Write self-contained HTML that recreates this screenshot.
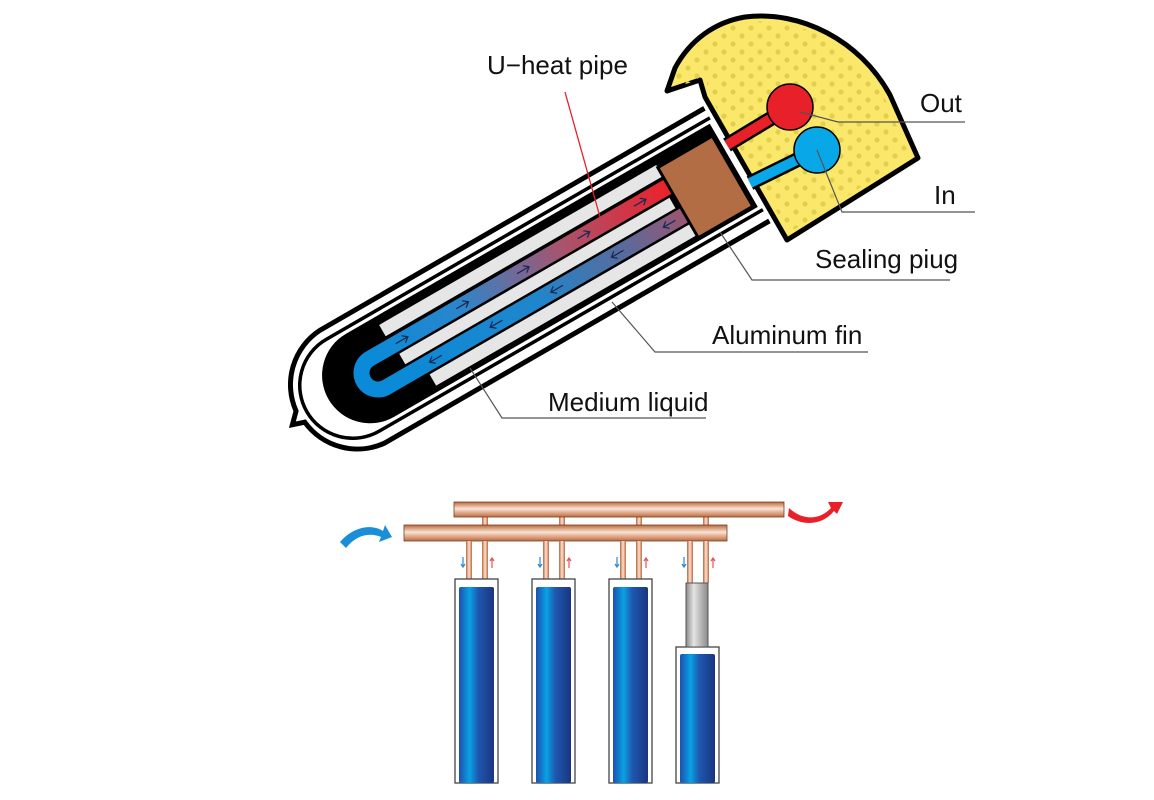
<!DOCTYPE html>
<html><head><meta charset="utf-8"><style>
html,body{margin:0;padding:0;background:#fff;}
svg{display:block}
text{font-family:"Liberation Sans",Arial,sans-serif;fill:#111;font-size:26px}
</style></head><body>
<svg width="1154" height="800" viewBox="0 0 1154 800" xmlns="http://www.w3.org/2000/svg">
<defs>
<linearGradient id="gTop" gradientUnits="userSpaceOnUse" x1="0" y1="0" x2="340" y2="0">
<stop offset="0" stop-color="#0a8ad8"/><stop offset="0.3" stop-color="#2a86cc"/><stop offset="0.65" stop-color="#a8546e"/><stop offset="1" stop-color="#e8242e"/></linearGradient>
<linearGradient id="gBot" gradientUnits="userSpaceOnUse" x1="0" y1="0" x2="345" y2="0">
<stop offset="0" stop-color="#0a8ad8"/><stop offset="0.5" stop-color="#1f86cc"/><stop offset="0.8" stop-color="#5a6a9a"/><stop offset="1" stop-color="#9a5670"/></linearGradient>
<pattern id="dots" patternUnits="userSpaceOnUse" width="18" height="16">
<circle cx="4" cy="4" r="2.6" fill="#e2cf4e"/><circle cx="13" cy="12" r="2.6" fill="#e2cf4e"/></pattern>
<linearGradient id="cu" x1="0" y1="0" x2="0" y2="1">
<stop offset="0" stop-color="#b8683e"/><stop offset="0.45" stop-color="#fbe3d2"/><stop offset="1" stop-color="#c06a40"/></linearGradient>
<linearGradient id="cuv" x1="0" y1="0" x2="1" y2="0">
<stop offset="0" stop-color="#b8683e"/><stop offset="0.5" stop-color="#fbe3d2"/><stop offset="1" stop-color="#c06a40"/></linearGradient>
<linearGradient id="bl" x1="0" y1="0" x2="1" y2="0">
<stop offset="0" stop-color="#1f4fae"/><stop offset="0.3" stop-color="#08a2e4"/><stop offset="0.55" stop-color="#1f58b0"/><stop offset="1" stop-color="#1a3580"/></linearGradient>
<linearGradient id="gr" x1="0" y1="0" x2="1" y2="0">
<stop offset="0" stop-color="#8a8a8a"/><stop offset="0.35" stop-color="#e4e4e4"/><stop offset="1" stop-color="#8a8a8a"/></linearGradient>
</defs>

<g transform="translate(378,373) rotate(-30)">
  <path d="M415,-66 L-29,-66 A65,65 0 0 0 -90,-8 L-100,2 L-88,6 A65,65 0 0 0 -29,64 L415,64" fill="#fff" stroke="#000" stroke-width="5"/>
  <path d="M415,-55 L-28,-55 A53,53 0 0 0 -28,51 L415,51" fill="#fff" stroke="#000" stroke-width="3.5"/>
  <path d="M412,-50 L-8,-50 A48,48 0 0 0 -8,46 L412,46 Z" fill="#000"/>
  <rect x="25" y="-41" width="320" height="13" fill="#e6e6e6"/>
  <rect x="28" y="-6" width="312" height="12" fill="#e6e6e6"/>
  <rect x="44" y="27" width="305" height="13" fill="#e6e6e6"/>
  <path d="M345,-16.5 L0,-16.5 A16.5,16.5 0 0 0 0,16.5" fill="none" stroke="url(#gTop)" stroke-width="16"/>
  <path d="M-1,16.5 L348,16.5" fill="none" stroke="url(#gBot)" stroke-width="16"/>
  <g fill="none" stroke="#1a2a55" stroke-width="1.3">
    <path d="M30,-16.5h14m-5,-4l5,4l-5,4"/><path d="M100,-16.5h14m-5,-4l5,4l-5,4"/><path d="M170,-16.5h14m-5,-4l5,4l-5,4"/><path d="M240,-16.5h14m-5,-4l5,4l-5,4"/><path d="M305,-16.5h14m-5,-4l5,4l-5,4"/>
    <path d="M50,16.5h14m-9,-4l-5,4l5,4"/><path d="M120,16.5h14m-9,-4l-5,4l5,4"/><path d="M190,16.5h14m-9,-4l-5,4l5,4"/><path d="M260,16.5h14m-9,-4l-5,4l5,4"/><path d="M320,16.5h14m-9,-4l-5,4l5,4"/>
  </g>
  <rect x="345" y="-38" width="63" height="81" fill="#b26d45" stroke="#000" stroke-width="3"/>
  <line x1="414" y1="-48" x2="414" y2="44" stroke="#fff" stroke-width="1.5"/>
</g>

<path d="M667,91 L675,68 C690,40 715,22 745,17 C800,10 860,40 890,95 L918,158 L787,240 L705,97 L700,80 Z" fill="#fbe86a" stroke="#000" stroke-width="5" stroke-linejoin="round"/>
<path d="M672,88 L679,70 C693,44 717,27 746,22 C798,16 855,44 884,97 L910,156 L789,233 L710,97 L706,78 Z" fill="url(#dots)"/>
<line x1="727" y1="145" x2="790" y2="107" stroke="#000" stroke-width="15"/>
<line x1="727" y1="145" x2="790" y2="107" stroke="#e8202a" stroke-width="10"/>
<line x1="750" y1="183" x2="817" y2="150" stroke="#000" stroke-width="15"/>
<line x1="750" y1="183" x2="817" y2="150" stroke="#08a8e8" stroke-width="10"/>
<circle cx="790" cy="107" r="23" fill="#e8202a" stroke="#000" stroke-width="1.5"/>
<circle cx="817" cy="150" r="23" fill="#08a8e8" stroke="#000" stroke-width="1.5"/>

<g stroke="#555" stroke-width="1.2" fill="none">
  <polyline points="800,112 838,122 965,122"/>
  <polyline points="817,150 842,212 975,212"/>
  <polyline points="720,232 752,280 950,280"/>
  <polyline points="612,302 655,352 868,352"/>
  <polyline points="470,368 502,418 706,418"/>
</g>
<line x1="565" y1="92" x2="600" y2="217" stroke="#e8202a" stroke-width="1.3"/>

<text x="487" y="74">U−heat pipe</text>
<text x="920" y="112">Out</text>
<text x="934" y="204">In</text>
<text x="815" y="268">Sealing piug</text>
<text x="712" y="344">Aluminum fin</text>
<text x="548" y="411">Medium liquid</text>

<g>
  <rect x="482" y="515" width="6" height="12" fill="url(#cuv)"/>
  <rect x="559" y="515" width="6" height="12" fill="url(#cuv)"/>
  <rect x="636" y="515" width="6" height="12" fill="url(#cuv)"/>
  <rect x="703" y="515" width="6" height="12" fill="url(#cuv)"/>
  <rect x="454" y="502" width="330" height="15" fill="url(#cu)" stroke="#7a3e20" stroke-width="0.8"/>
  <rect x="404" y="525" width="323" height="16" fill="url(#cu)" stroke="#7a3e20" stroke-width="0.8"/>
  <g fill="url(#cuv)">
    <rect x="466" y="541" width="6" height="39"/><rect x="482" y="541" width="6" height="39"/>
    <rect x="543" y="541" width="6" height="39"/><rect x="559" y="541" width="6" height="39"/>
    <rect x="620" y="541" width="6" height="39"/><rect x="636" y="541" width="6" height="39"/>
    <rect x="687" y="541" width="6" height="42"/><rect x="703" y="541" width="6" height="42"/>
  </g>
  <g stroke-width="1.2" fill="none">
    <path d="M463,557v10m-2,-3l2,3l2,-3" stroke="#2a8ad8"/><path d="M540,557v10m-2,-3l2,3l2,-3" stroke="#2a8ad8"/>
    <path d="M617,557v10m-2,-3l2,3l2,-3" stroke="#2a8ad8"/><path d="M684,557v10m-2,-3l2,3l2,-3" stroke="#2a8ad8"/>
    <path d="M492,568v-10m-2,3l2,-3l2,3" stroke="#e8505a"/><path d="M569,568v-10m-2,3l2,-3l2,3" stroke="#e8505a"/>
    <path d="M646,568v-10m-2,3l2,-3l2,3" stroke="#e8505a"/><path d="M713,568v-10m-2,3l2,-3l2,3" stroke="#e8505a"/>
  </g>
  <g fill="#fff" stroke="#444" stroke-width="1.3">
    <rect x="455" y="579" width="43" height="204"/>
    <rect x="532" y="579" width="43" height="204"/>
    <rect x="609" y="579" width="43" height="204"/>
    <rect x="676" y="647" width="43" height="136"/>
  </g>
  <rect x="686" y="583" width="22" height="64" fill="url(#gr)" stroke="#555" stroke-width="1"/>
  <g fill="url(#bl)">
    <rect x="459" y="587" width="35" height="196" rx="2"/>
    <rect x="536" y="587" width="35" height="196" rx="2"/>
    <rect x="613" y="587" width="35" height="196" rx="2"/>
    <rect x="680" y="654" width="35" height="129" rx="2"/>
  </g>
  <path d="M340,542 C354,526 372,524 383,531 L385,525 L392,537 L379,542 L381,537 C370,532 356,535 346,548 Z" fill="#1a8ed8"/>
  <path d="M789,508 C803,521 820,520 831,508 L828,502 L843,502 L837,514 L834,511 C822,526 802,526 788,516 Z" fill="#e8202a"/>
</g>
</svg>
</body></html>
